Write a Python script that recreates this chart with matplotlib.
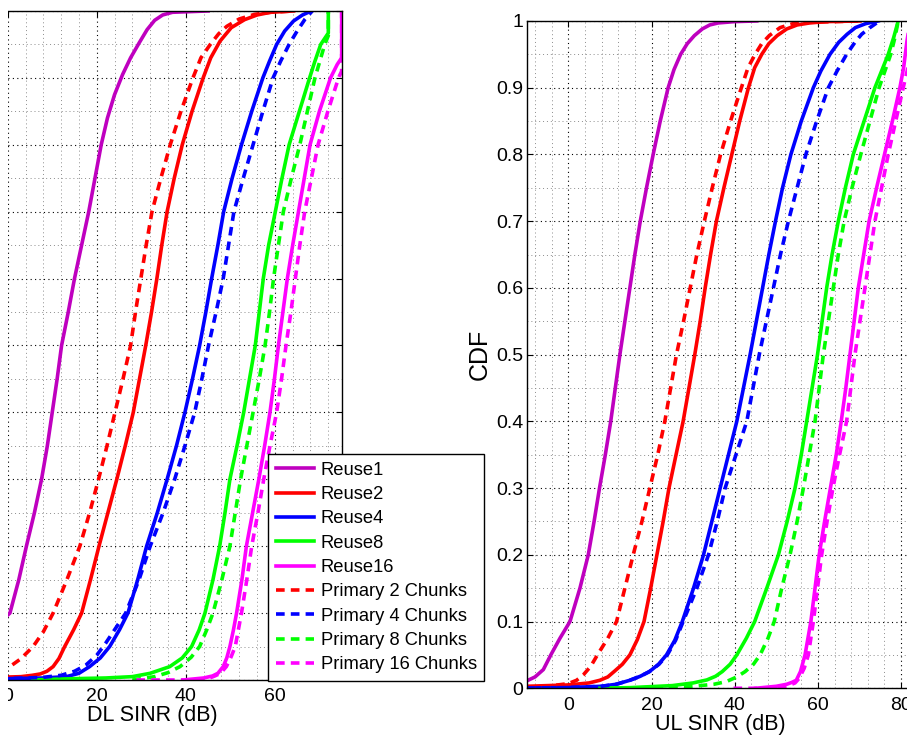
import matplotlib
matplotlib.use("Agg")
import matplotlib.pyplot as plt
from matplotlib.patches import Rectangle

plt.rcParams["font.family"] = ["Liberation Sans", "DejaVu Sans"]

# ---- DL SINR curves (x in dB, y = CDF) ----
dl_r1_x = [-10, -5, -2, 0.5, 2.5, 4.2, 6.0, 7.6, 8.9, 10.0, 11.1, 12.1, 13.6, 15.0, 16.6, 18.2, 19.6, 21.0,
           22.4, 24.0, 25.8, 27.6, 29.5, 31.3, 33.0, 34.8, 37, 45]
dl_r1_y = [0.04, 0.065, 0.085, 0.1, 0.15, 0.2, 0.25, 0.3, 0.35, 0.4, 0.45, 0.5, 0.55, 0.6, 0.65, 0.7, 0.75, 0.8,
           0.84, 0.875, 0.905, 0.93, 0.952, 0.972, 0.986, 0.994, 0.998, 1.0]
dl_r2_x = [-10, -2, 3, 5.5, 7.3, 8.8, 10.2, 11.5, 12.8, 14.8, 16.6, 18.6, 20.5, 22.5, 24.5, 26.4, 28.2, 29.6,
           31.0, 32.3, 33.5, 34.6, 35.8, 37.4, 39.2, 41.4, 43.9, 45.6, 47.7, 50.2, 53.2, 56, 59, 64.2]
dl_r2_y = [0.002, 0.004, 0.005, 0.007, 0.009, 0.013, 0.02, 0.032, 0.05, 0.075, 0.1, 0.15, 0.2, 0.25, 0.3, 0.35,
           0.4, 0.45, 0.5, 0.55, 0.6, 0.65, 0.7, 0.75, 0.8, 0.85, 0.9, 0.93, 0.955, 0.975, 0.987, 0.994, 0.998, 1.0]
dl_r4_x = [-10, 0, 8, 13.2, 16, 18.4, 20.8, 22.9, 25.1, 27.0, 29.2, 31.2, 33.6, 35.8, 37.9, 39.8, 41.5, 43.1,
           44.5, 45.8, 47.2, 48.5, 50.4, 52.5, 54.8, 57.3, 58.8, 60.4, 62.2, 64.2, 66.2, 68.2]
dl_r4_y = [0.001, 0.002, 0.003, 0.005, 0.01, 0.02, 0.033, 0.05, 0.075, 0.1, 0.15, 0.2, 0.25, 0.3, 0.35, 0.4,
           0.45, 0.5, 0.55, 0.6, 0.65, 0.7, 0.75, 0.8, 0.85, 0.9, 0.925, 0.95, 0.97, 0.985, 0.994, 1.0]
dl_r8_x = [5.6, 10, 15, 22, 28, 32, 36.4, 39.2, 41.3, 43, 44.3, 46.1, 47.6, 48.8, 49.9, 51.5, 53.0, 54.3, 55.6,
           56.5, 57.4, 58.6, 60.1, 61.6, 63.2, 65.5, 67.8, 69.0, 70.3, 71.3, 72.0, 72.0]
dl_r8_y = [0.0, 0.001, 0.002, 0.003, 0.005, 0.01, 0.02, 0.033, 0.05, 0.075, 0.1, 0.15, 0.2, 0.25, 0.3, 0.35,
           0.4, 0.45, 0.5, 0.55, 0.6, 0.65, 0.7, 0.75, 0.8, 0.85, 0.9, 0.925, 0.95, 0.96, 0.967, 1.0]
dl_r16_x = [39.4, 44, 46, 47.2, 48.4, 49.2, 49.9, 50.7, 51.4, 52.6, 53.6, 55.0, 56.4, 57.7, 58.9, 59.9, 60.8,
            61.8, 62.8, 64.0, 65.3, 66.6, 67.9, 70.0, 72.5, 74.0, 75.0, 75.0]
dl_r16_y = [0.0, 0.003, 0.006, 0.01, 0.02, 0.033, 0.05, 0.075, 0.1, 0.15, 0.2, 0.25, 0.3, 0.35, 0.4, 0.45, 0.5,
            0.55, 0.6, 0.65, 0.7, 0.75, 0.8, 0.85, 0.9, 0.92, 0.93, 1.0]
dl_p2_x = [-10, -5, -1.7, 0.5, 3, 5.7, 8, 10.2, 13.3, 16.2, 18.4, 20.4, 22.3, 24.1, 25.9, 27.6, 28.7, 29.9,
           31.1, 32.4, 34.4, 36.5, 38.9, 41.6, 43.4, 45.5, 47.4, 49.2, 52, 55.5, 59, 64.2]
dl_p2_y = [0.004, 0.008, 0.014, 0.02, 0.032, 0.05, 0.072, 0.1, 0.15, 0.2, 0.25, 0.3, 0.35, 0.4, 0.45, 0.5,
           0.55, 0.6, 0.65, 0.7, 0.75, 0.8, 0.85, 0.9, 0.93, 0.95, 0.966, 0.977, 0.988, 0.995, 0.998, 1.0]
dl_p4_x = [-10, 0, 8, 12, 15, 17.5, 20, 22, 24.5, 26.5, 29.5, 32.0, 34.9, 37.5, 39.8, 42.0, 43.6, 45.1, 46.8,
           48.4, 49.6, 50.8, 52.9, 55.1, 57.3, 59.6, 61.3, 63.2, 65, 66.8, 68.4]
dl_p4_y = [0.001, 0.002, 0.004, 0.007, 0.013, 0.022, 0.037, 0.055, 0.08, 0.1, 0.15, 0.2, 0.25, 0.3, 0.35, 0.4,
           0.45, 0.5, 0.55, 0.6, 0.65, 0.7, 0.75, 0.8, 0.85, 0.9, 0.925, 0.95, 0.97, 0.988, 1.0]
dl_p8_x = [28, 33, 36, 38.7, 41.2, 43.1, 44.7, 46.1, 48.1, 49.9, 51.1, 52.3, 53.7, 55.1, 56.5, 57.8, 58.8,
           59.7, 60.8, 61.9, 63.7, 65.6, 67.3, 69.0, 70.1, 71.2, 72.0, 72.0]
dl_p8_y = [0.0, 0.005, 0.011, 0.02, 0.034, 0.05, 0.075, 0.1, 0.15, 0.2, 0.25, 0.3, 0.35, 0.4, 0.45, 0.5, 0.55,
           0.6, 0.65, 0.7, 0.75, 0.8, 0.85, 0.9, 0.925, 0.95, 0.963, 1.0]
dl_p16_x = [28.9, 40, 45, 46.5, 47.8, 49.1, 50.2, 51.1, 51.8, 52.5, 53.7, 54.8, 56.2, 57.5, 58.9, 60.4, 61.5,
            62.5, 63.6, 64.6, 65.6, 66.7, 68.2, 69.7, 71.9, 74.3, 75.0, 75.0]
dl_p16_y = [0.0, 0.0, 0.002, 0.006, 0.01, 0.02, 0.035, 0.05, 0.075, 0.1, 0.15, 0.2, 0.25, 0.3, 0.35, 0.4, 0.45,
            0.5, 0.55, 0.6, 0.65, 0.7, 0.75, 0.8, 0.85, 0.9, 0.91, 1.0]

# ---- UL SINR curves ----
ul_r1_x = [-10, -8, -6, -4.2, -2, 0.4, 2.8, 4.8, 6.2, 7.5, 8.9, 10.2, 11.3, 12.4, 13.6, 14.8, 16.0, 17.3, 18.8,
           20.4, 22.1, 24.0, 25.4, 27.0, 28.6, 30.3, 32.2, 34.0, 36, 40, 45.3]
ul_r1_y = [0.011, 0.017, 0.028, 0.05, 0.075, 0.1, 0.15, 0.2, 0.25, 0.3, 0.35, 0.4, 0.45, 0.5, 0.55, 0.6, 0.65,
           0.7, 0.75, 0.8, 0.85, 0.9, 0.927, 0.95, 0.966, 0.978, 0.988, 0.994, 0.997, 0.999, 1.0]
ul_r2_x = [-10, -5, 0, 5, 7.6, 9.5, 11, 13, 14.8, 16.6, 18.2, 19.8, 21.3, 22.8, 24.2, 25.9, 27.6, 29.0, 30.4,
           31.7, 32.9, 34.2, 35.6, 37.4, 39.3, 41.2, 43.3, 44.8, 46.5, 48.2, 50.2, 52.5, 55, 58, 62, 70.1]
ul_r2_y = [0.003, 0.004, 0.005, 0.008, 0.012, 0.017, 0.025, 0.036, 0.05, 0.073, 0.1, 0.15, 0.2, 0.25, 0.3,
           0.35, 0.4, 0.45, 0.5, 0.55, 0.6, 0.65, 0.7, 0.75, 0.8, 0.85, 0.9, 0.93, 0.95, 0.966, 0.978, 0.988,
           0.994, 0.997, 0.999, 1.0]
ul_r4_x = [-10, 0, 8, 11.5, 14.8, 17.3, 19.5, 21.7, 23.6, 25.6, 27.4, 30.1, 32.5, 34.5, 36.5, 38.5, 40.5, 42.1,
           43.7, 45.2, 46.7, 48.2, 49.8, 51.5, 53.5, 56.0, 58.9, 60.7, 62.9, 65, 67, 69, 71.5, 74.5]
ul_r4_y = [0.0005, 0.001, 0.003, 0.006, 0.012, 0.018, 0.025, 0.036, 0.05, 0.072, 0.1, 0.15, 0.2, 0.25, 0.3,
           0.35, 0.4, 0.45, 0.5, 0.55, 0.6, 0.65, 0.7, 0.75, 0.8, 0.85, 0.9, 0.925, 0.95, 0.968, 0.98, 0.99,
           0.996, 1.0]
ul_r8_x = [7.6, 15, 25, 30, 33.3, 35.4, 37, 38.9, 40.5, 42.8, 44.8, 47.7, 50.5, 52.6, 54.5, 56.0, 57.3, 58.6,
           59.9, 61.0, 62.1, 63.4, 64.9, 66.6, 68.5, 71.1, 73.7, 75.3, 76.9, 78.2, 79.3]
ul_r8_y = [0.0, 0.001, 0.004, 0.008, 0.0125, 0.018, 0.025, 0.036, 0.05, 0.075, 0.1, 0.15, 0.2, 0.25, 0.3,
           0.35, 0.4, 0.45, 0.5, 0.55, 0.6, 0.65, 0.7, 0.75, 0.8, 0.85, 0.9, 0.925, 0.95, 0.975, 1.0]
ul_r16_x = [45, 50, 52.5, 53.8, 54.8, 55.8, 56.9, 57.6, 58.3, 59.3, 60.3, 61.6, 63.0, 64.4, 65.6, 66.7, 67.7,
            68.7, 69.7, 71.0, 72.3, 74.1, 76.0, 77.9, 79.7, 80.6, 81.4, 82.2]
ul_r16_y = [0.0, 0.003, 0.006, 0.009, 0.012, 0.025, 0.05, 0.075, 0.1, 0.15, 0.2, 0.25, 0.3, 0.35, 0.4, 0.45,
            0.5, 0.55, 0.6, 0.65, 0.7, 0.75, 0.8, 0.85, 0.9, 0.93, 0.97, 1.0]
ul_p2_x = [-10, -5, 0, 2, 3.6, 5.4, 7.0, 9.5, 11.6, 13.6, 15.6, 17.7, 19.6, 21.5, 23.2, 24.6, 26.0, 27.7, 29.3,
           30.9, 32.7, 34.6, 36.6, 39.0, 41.6, 43.2, 44.9, 46.5, 48.3, 50.9, 54, 58, 70.1]
ul_p2_y = [0.001, 0.003, 0.007, 0.012, 0.02, 0.033, 0.05, 0.075, 0.1, 0.15, 0.2, 0.25, 0.3, 0.35, 0.4, 0.45,
           0.5, 0.55, 0.6, 0.65, 0.7, 0.75, 0.8, 0.85, 0.9, 0.93, 0.95, 0.966, 0.978, 0.99, 0.996, 0.998, 1.0]
ul_p4_x = [-10, 0, 8, 11.5, 14.8, 17.3, 19.5, 21.8, 23.8, 25.8, 27.6, 30.9, 33.7, 35.8, 37.7, 40.3, 42.9, 44.4,
           45.9, 47.6, 49.3, 51.0, 52.9, 55.0, 57.1, 59.7, 62.5, 64.6, 66.9, 68.9, 70.5, 72.5, 74.8]
ul_p4_y = [0.0005, 0.001, 0.003, 0.006, 0.012, 0.018, 0.025, 0.036, 0.05, 0.072, 0.1, 0.15, 0.2, 0.25, 0.3,
           0.35, 0.4, 0.45, 0.5, 0.55, 0.6, 0.65, 0.7, 0.75, 0.8, 0.85, 0.9, 0.925, 0.95, 0.968, 0.98, 0.99, 1.0]
ul_p8_x = [10, 20, 30, 35, 38, 40.5, 42.5, 44.5, 46.1, 48, 49.5, 51.3, 53.3, 55.0, 56.5, 57.9, 59.3, 60.3, 61.3,
           62.5, 63.7, 64.9, 66.3, 68.2, 70.3, 72.5, 74.7, 76.1, 77.5, 78.5, 79.3]
ul_p8_y = [0.0, 0.001, 0.003, 0.006, 0.01, 0.017, 0.025, 0.036, 0.05, 0.075, 0.1, 0.15, 0.2, 0.25, 0.3, 0.35,
           0.4, 0.45, 0.5, 0.55, 0.6, 0.65, 0.7, 0.75, 0.8, 0.85, 0.9, 0.925, 0.95, 0.975, 1.0]
ul_p16_x = [39.7, 48, 52.5, 54.5, 55.5, 56.7, 57.7, 58.3, 58.9, 59.9, 60.9, 62.2, 63.6, 65.2, 66.9, 67.9, 68.9,
            70.1, 71.3, 72.5, 73.7, 75.3, 76.9, 78.7, 80.5, 82, 84]
ul_p16_y = [0.0, 0.0, 0.003, 0.008, 0.015, 0.03, 0.05, 0.075, 0.1, 0.15, 0.2, 0.25, 0.3, 0.35, 0.4, 0.45, 0.5,
            0.55, 0.6, 0.65, 0.7, 0.75, 0.8, 0.85, 0.9, 0.94, 1.0]

labels = ["Reuse1", "Reuse2", "Reuse4", "Reuse8", "Reuse16",
          "Primary 2 Chunks", "Primary 4 Chunks", "Primary 8 Chunks", "Primary 16 Chunks"]
colors = ["#BF00BF", "#FF0000", "#0000FF", "#00FF00", "#FF00FF",
          "#FF0000", "#0000FF", "#00FF00", "#FF00FF"]

dl_curves = [(dl_r1_x, dl_r1_y), (dl_r2_x, dl_r2_y), (dl_r4_x, dl_r4_y), (dl_r8_x, dl_r8_y),
             (dl_r16_x, dl_r16_y), (dl_p2_x, dl_p2_y), (dl_p4_x, dl_p4_y), (dl_p8_x, dl_p8_y),
             (dl_p16_x, dl_p16_y)]
ul_curves = [(ul_r1_x, ul_r1_y), (ul_r2_x, ul_r2_y), (ul_r4_x, ul_r4_y), (ul_r8_x, ul_r8_y),
             (ul_r16_x, ul_r16_y), (ul_p2_x, ul_p2_y), (ul_p4_x, ul_p4_y), (ul_p8_x, ul_p8_y),
             (ul_p16_x, ul_p16_y)]

fig = plt.figure(figsize=(9.07, 7.4), dpi=100)
ax1 = fig.add_axes([-0.0406, 0.0811, 0.4173, 0.9041])
ax2 = fig.add_axes([0.5807, 0.0699, 0.4266, 0.9018])


def style_axis(ax, xlim, xticks):
    ax.set_xticks(xticks)
    ax.set_xticks(range(-8, 96, 4), minor=True)
    ax.set_yticks([i / 10 for i in range(11)])
    ax.set_yticklabels(["0"] + ["%.1f" % (i / 10) for i in range(1, 10)] + ["1"])
    ax.set_yticks([i / 20 for i in range(1, 20, 2)], minor=True)
    # limits last, so the minor ticks do not widen the view
    ax.set_xlim(xlim)
    ax.set_ylim(0, 1)
    ax.grid(True, which="major", color="k", linestyle=(0, (1, 3)), linewidth=0.8)
    ax.grid(True, which="minor", color="0.55", linestyle=(0, (1, 3)), linewidth=0.7)
    ax.tick_params(which="major", direction="in", length=4, width=0.8,
                   top=True, right=True, labelsize=14)
    ax.tick_params(axis="x", pad=6)
    ax.tick_params(axis="y", pad=2.5)
    ax.tick_params(which="minor", length=0)
    for s in ax.spines.values():
        s.set_linewidth(1.0)
    ax.set_axisbelow(True)


handles = []
for ax, curves in ((ax1, dl_curves), (ax2, ul_curves)):
    for i, (xs, ys) in enumerate(curves):
        if i < 5:
            ln, = ax.plot(xs, ys, color=colors[i], lw=2.6, label=labels[i])
        else:
            ln, = ax.plot(xs, ys, color=colors[i], lw=2.6, linestyle="--",
                          dashes=(2.4, 1.7), label=labels[i])
        if ax is ax1:
            handles.append(ln)

style_axis(ax1, (-10, 75), [0, 20, 40, 60])
style_axis(ax2, (-10, 83), [0, 20, 40, 60, 80])
ax1.tick_params(labelleft=False)

ax1.set_xlabel("DL SINR (dB)", fontsize=15.5, labelpad=0)
ax2.set_xlabel("UL SINR (dB)", fontsize=15.5, labelpad=0)
ax2.set_ylabel("CDF", fontsize=18, labelpad=3)

leg = ax1.legend(handles=handles, loc="lower left",
                 bbox_to_anchor=(268 / 907, 59 / 740), bbox_transform=fig.transFigure,
                 fontsize=13.2, fancybox=False, framealpha=1, edgecolor="k",
                 handlelength=2.1, handletextpad=0.35, labelspacing=0.4,
                 borderpad=0.42, borderaxespad=0)
leg.get_frame().set_linewidth(1.0)

# the left panel of the source image is cropped a few pixels right of its frame
fig.add_artist(Rectangle((0, 0), 8 / 907, 1, transform=fig.transFigure,
                         facecolor="white", edgecolor="none", zorder=10))

fig.savefig("out.png", dpi=100)
